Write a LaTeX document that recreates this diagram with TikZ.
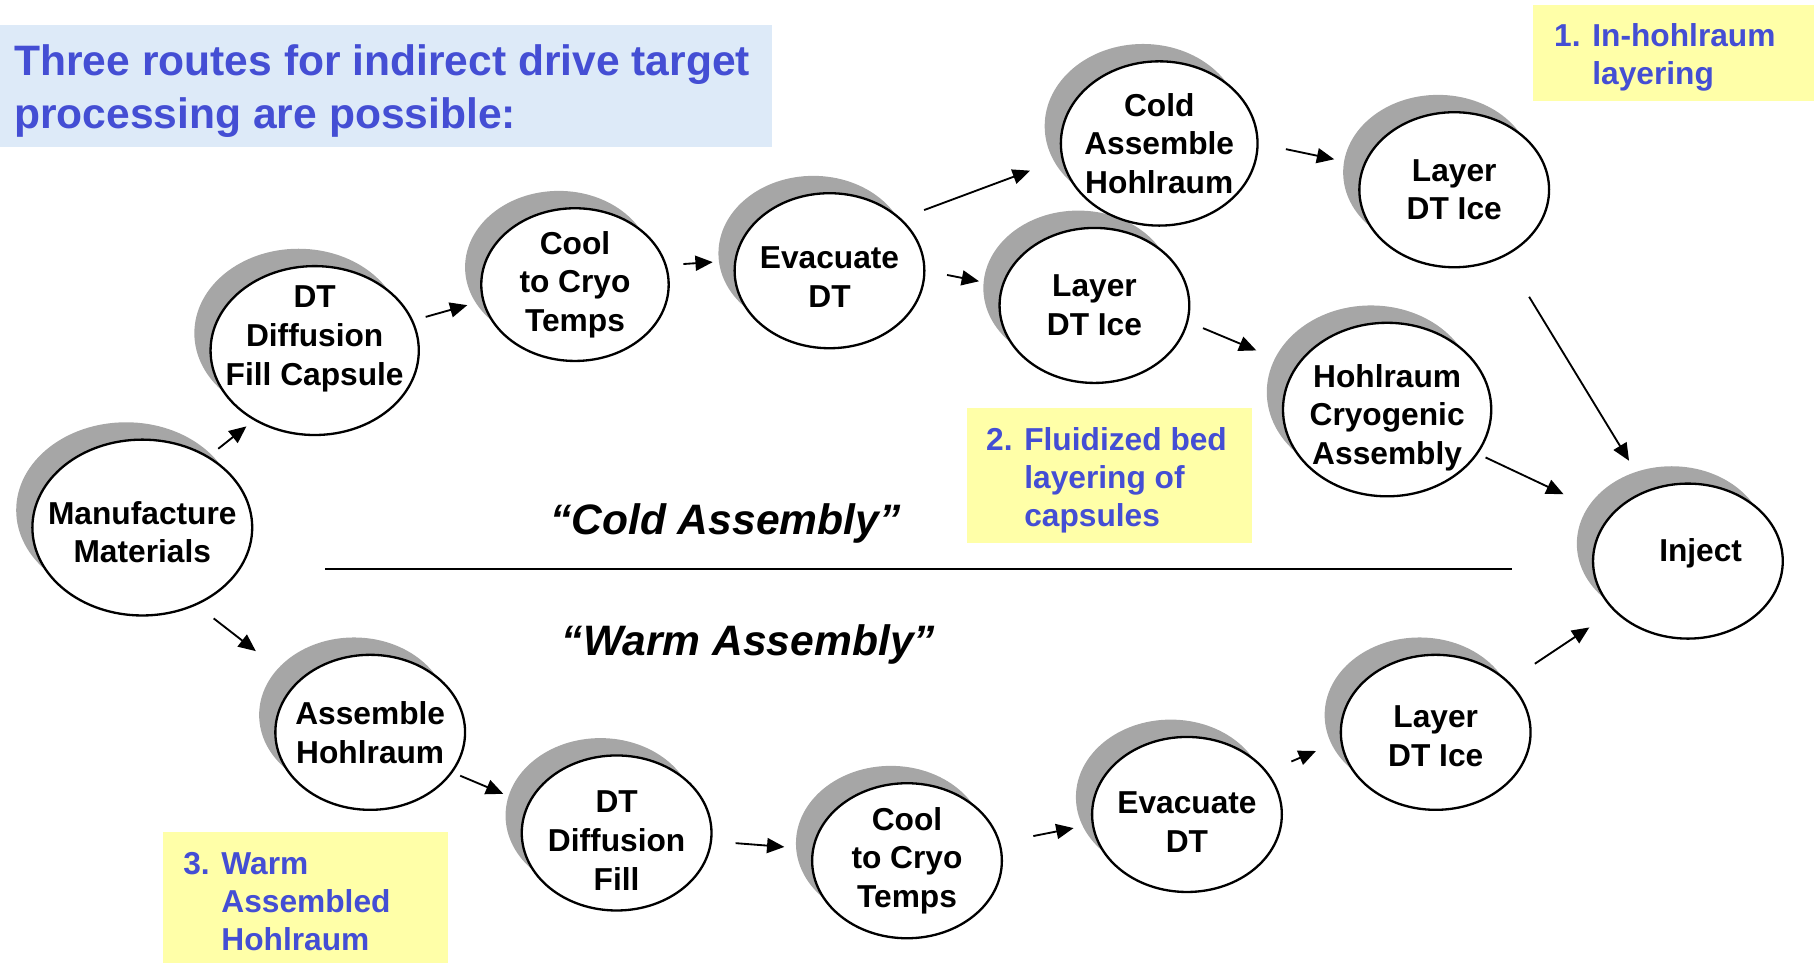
\documentclass[tikz,border=0pt]{standalone}
\usepackage{fontspec}
\setmainfont{Liberation Sans}
\usetikzlibrary{arrows.meta,shapes.geometric,shadows}

\definecolor{ttlblue}{RGB}{68,78,212}
\definecolor{skyfill}{RGB}{221,234,248}
\definecolor{notefill}{RGB}{255,255,168}
\definecolor{shadowgray}{RGB}{166,166,166}

\begin{document}
\begin{tikzpicture}[x=0.5pt, y=-0.5pt,
  proc/.style={ellipse, draw, line width=1pt, fill=white, inner sep=-60pt,
    minimum width=82pt, minimum height=67pt, align=center,
    font=\bfseries\fontsize{13.7}{16.75}\selectfont,
    general shadow={fill=shadowgray, shadow xshift=-7pt, shadow yshift=7.5pt}},
  arr/.style={line width=0.8pt, -{Triangle[length=7.5pt,width=6.5pt]}},
  headline/.style={text=ttlblue, align=left, anchor=north west, inner sep=0pt,
    font=\bfseries\fontsize{18.4}{23}\selectfont},
  notetext/.style={text=ttlblue, align=left, anchor=north west, inner sep=0pt,
    font=\bfseries\fontsize{13.7}{16.5}\selectfont},
  phaselabel/.style={anchor=base, inner sep=0pt,
    font=\bfseries\itshape\fontsize{18.4}{23}\selectfont}]

\useasboundingbox (0,0) rectangle (1568,832);

\fill[skyfill] (0,22) rectangle (667,127);
\node[headline] (ttl) at (12,38) {Three routes for indirect drive target\\processing are possible:};

\fill[notefill] (1325,4) rectangle (1568,87);
\fill[notefill] (836,353) rectangle (1082,469);
\fill[notefill] (141,719) rectangle (387,832);
\node[notetext] (n1) at (1343,20) {1. In-hohlraum\\\phantom{1. }layering};
\node[notetext] (n2) at (852,369) {2. Fluidized bed\\\phantom{2. }layering of\\\phantom{2. }capsules};
\node[notetext] (n3) at (158,736) {3. Warm\\\phantom{3. }Assembled\\\phantom{3. }Hohlraum};

\node[phaselabel] (cold) at (627,462) {“Cold Assembly”};
\node[phaselabel] (warm) at (647,567) {“Warm Assembly”};
\draw[line width=1pt] (281,492) -- (1307,492);

\node[proc, minimum width=95pt, minimum height=76pt] (mm) at (123,456) {\rule{0pt}{14pt}Manufacture\\Materials};
\node[proc, minimum width=90pt, minimum height=73pt] (dtc) at (272,303) {DT\\Diffusion\\Fill Capsule\rule[-13pt]{0pt}{13pt}};
\node[proc, minimum width=81pt, minimum height=66pt] (cool1) at (497,246) {Cool\\to Cryo\\Temps};
\node[proc] (evac1) at (717,234) {\rule{0pt}{15pt}Evacuate\\DT};
\node[proc] (lay2) at (946,264) {Layer\\DT Ice};
\node[proc, minimum width=85pt, minimum height=71pt] (cah) at (1002,124) {Cold\\Assemble\\Hohlraum};
\node[proc] (lay1) at (1257,164) {Layer\\DT Ice};
\node[proc, minimum width=90pt, minimum height=75pt] (hca) at (1199,354) {\rule{0pt}{17pt}Hohlraum\\Cryogenic\\Assembly};
\node[proc] (inj) at (1459,485) {\hspace*{11pt}\raisebox{10pt}{Inject}};
\node[proc] (ah) at (320,633) {Assemble\\Hohlraum};
\node[proc] (dtf) at (533,720) {\rule{0pt}{16pt}DT\\Diffusion\\Fill};
\node[proc] (cool2) at (784,744) {Cool\\to Cryo\\Temps};
\node[proc] (evac2) at (1026,704) {\rule{0pt}{16pt}Evacuate\\DT};
\node[proc] (lay3) at (1241,633) {\rule{0pt}{13pt}Layer\\DT Ice};

\draw[arr, shorten <=5.2pt, shorten >=4.1pt] (mm.47.6) -- (dtc.229.2);
\draw[arr, shorten <=9.3pt, shorten >=22pt] (mm.305.6) -- (ah.146.8);
\draw[arr, shorten <=5.6pt, shorten >=6.7pt] (dtc.17) -- (cool1.190.5);
\draw[arr, shorten <=7.2pt, shorten >=9.3pt] (cool1.12.9) -- (evac1.174.9);
\draw[arr, shorten <=10.5pt, shorten >=14.5pt] (evac1.36.2) -- (cah.189.1);
\draw[arr, shorten <=9.5pt, shorten >=9.9pt] (evac1.0.6) -- (lay2.168.6);
\draw[arr, shorten <=12pt, shorten >=12.7pt] (cah.-0.5) -- (lay1.165.8);
\draw[arr, shorten <=6.9pt, shorten >=18.2pt] (lay2.350.9) -- (hca.155.5);
\draw[arr, shorten <=20.3pt, shorten >=14.8pt] (lay1.307.4) -- (inj.120.2);
\draw[arr, shorten <=3.6pt, shorten >=21.9pt] (hca.334) -- (inj.150.9);
\draw[arr, shorten <=3.5pt, shorten >=11.3pt] (ah.334.3) -- (dtf.162.4);
\draw[arr, shorten <=10.2pt, shorten >=12pt] (dtf.355.5) -- (cool2.173.4);
\draw[arr, shorten <=14.5pt, shorten >=8pt] (cool2.11.6) -- (evac2.186.5);
\draw[arr, shorten <=11.2pt, shorten >=11.4pt] (evac2.28.9) -- (lay3.185.5);
\draw[arr, shorten <=13.6pt, shorten >=12.7pt] (lay3.35.9) -- (inj.214.9);
\end{tikzpicture}
\end{document}
